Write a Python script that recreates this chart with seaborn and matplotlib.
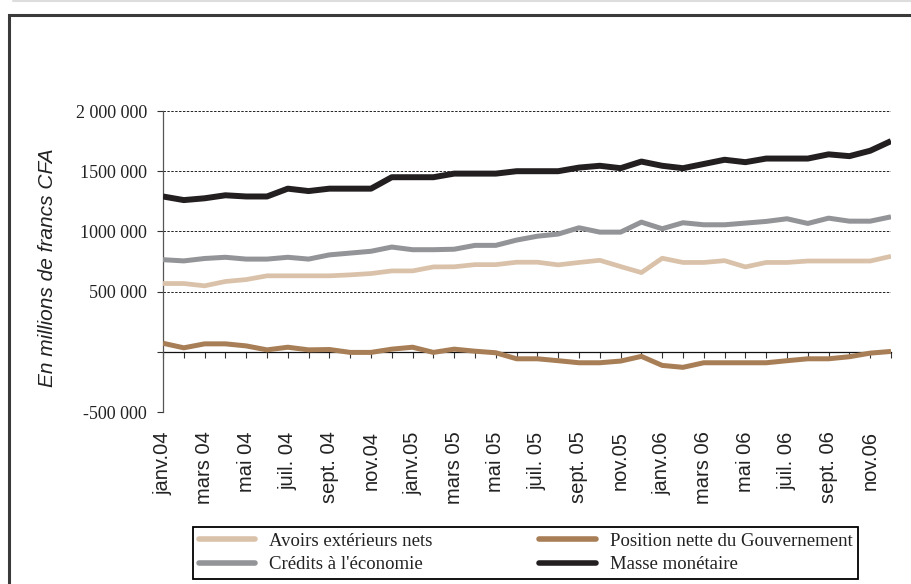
import numpy as np
import pandas as pd
import matplotlib
matplotlib.use("Agg")
import matplotlib.pyplot as plt
import seaborn as sns
from matplotlib.lines import Line2D
from matplotlib.patches import Rectangle
from matplotlib.font_manager import FontProperties

# Monthly series, janv. 2004 - déc. 2006 (millions de francs CFA)
mois = np.arange(36)

avoirs_exterieurs = [567000, 567000, 548000, 584000, 600000, 631000, 631000, 631000, 631000, 639000,
                     650000, 672000, 672000, 705000, 706000, 724000, 724000, 744000, 744000, 722000,
                     742000, 760000, 708000, 658000, 777000, 742000, 742000, 757000, 705000, 742000,
                     742000, 754000, 754000, 754000, 754000, 793000]
position_gouv = [71000, 33000, 66000, 66000, 49000, 16000, 38000, 16000, 19000, -5000,
                 -5000, 22000, 38000, -5000, 22000, 5000, -8000, -58000, -58000, -74000,
                 -91000, -91000, -77000, -38000, -113000, -129000, -91000, -91000, -91000, -91000,
                 -74000, -58000, -58000, -41000, -11000, 3000]
credits_economie = [765000, 755000, 775000, 785000, 770000, 770000, 785000, 770000, 805000, 820000,
                    835000, 870000, 848000, 848000, 852000, 884000, 884000, 928000, 960000, 978000,
                    1030000, 994000, 994000, 1077000, 1022000, 1072000, 1055000, 1055000, 1069000, 1083000,
                    1105000, 1066000, 1110000, 1085000, 1085000, 1121000]
masse_monetaire = [1290000, 1260000, 1275000, 1300000, 1290000, 1290000, 1355000, 1335000, 1355000, 1355000,
                   1355000, 1450000, 1450000, 1450000, 1480000, 1480000, 1480000, 1500000, 1500000, 1500000,
                   1530000, 1545000, 1525000, 1580000, 1545000, 1525000, 1560000, 1595000, 1575000, 1605000,
                   1605000, 1605000, 1640000, 1625000, 1670000, 1750000]

series_noms = ["Avoirs extérieurs nets", "Position nette du Gouvernement",
               "Crédits à l'économie", "Masse monétaire"]
series_couleurs = ["#D9C2A9", "#A87E57", "#939497", "#231F20"]
series_epaisseurs = [3.4, 3.6, 3.6, 4.3]

etiquettes_mois = ["janv.04", "mars 04", "mai 04", "juil. 04", "sept. 04", "nov.04",
                   "janv.05", "mars 05", "mai 05", "juil. 05", "sept. 05", "nov.05",
                   "janv.06", "mars 06", "mai 06", "juil. 06", "sept. 06", "nov.06"]
y_ticks = [-500000, 0, 500000, 1000000, 1500000, 2000000]
y_etiquettes = ["-500 000", "", "500 000", "1000 000", "1500 000", "2 000 000"]

df = pd.DataFrame({
    "mois": np.tile(mois, 4),
    "valeur": np.concatenate([avoirs_exterieurs, position_gouv, credits_economie, masse_monetaire]),
    "serie": np.repeat(series_noms, len(mois)),
})

sns.set_theme(style="white")
plt.rcParams["font.family"] = ["Liberation Sans", "DejaVu Sans"]

fig = plt.figure(figsize=(9.12, 5.84), dpi=100)
ax = fig.add_axes([163 / 912, 1 - 412 / 584, 728 / 912, 301 / 584])

sns.lineplot(data=df, x="mois", y="valeur", hue="serie", hue_order=series_noms,
             palette=series_couleurs, estimator=None, sort=False, legend=False, ax=ax)
for line, lw in zip(ax.get_lines(), series_epaisseurs):
    line.set_linewidth(lw)
    line.set_solid_capstyle("butt")
    line.set_solid_joinstyle("round")
    line.set_zorder(3)

ax.set_xlim(0, 35)
ax.set_ylim(-500000, 2000000)
ax.set_xlabel("")

# dashed horizontal gridlines (none at zero, where the axis line sits)
for yv in y_ticks:
    if yv != 0:
        ax.axhline(yv, ls=(0, (2.5, 1.5)), lw=0.7, color="#222222", zorder=0.5)

# y axis
ax.set_yticks(y_ticks)
ax.set_yticklabels(y_etiquettes, fontfamily="Liberation Serif", fontsize=13, color="#222222")
ax.tick_params(axis="y", direction="out", length=4.5, width=0.8, color="#333333", pad=7, left=True)
ax.spines["left"].set_color("#555555")
ax.spines["left"].set_linewidth(0.9)
ax.spines["top"].set_visible(False)
ax.spines["right"].set_visible(False)

# category axis line at zero with a tick per month
ax.spines["bottom"].set_position(("data", 0))
ax.spines["bottom"].set_color("#111111")
ax.spines["bottom"].set_linewidth(0.9)
ax.spines["bottom"].set_zorder(1)
ax.set_xticks(mois)
ax.set_xticklabels([])
ax.tick_params(axis="x", direction="out", length=4, width=0.8, color="#333333", bottom=True)

# month labels below the plot area
sec = ax.secondary_xaxis("bottom")
sec.set_xticks(mois[::2])
sec.set_xticklabels(etiquettes_mois, rotation=90, fontsize=14.5, color="#222222")
sec.tick_params(axis="x", length=0, pad=14)
sec.spines["bottom"].set_visible(False)

ax.set_ylabel("En millions de francs CFA", fontstyle="italic", fontsize=15, color="#222222")
ax.yaxis.set_label_coords(-0.146, 0.478)

# legend
ordre = [0, 2, 1, 3]
handles = [Line2D([], [], color=series_couleurs[i], lw=4) for i in ordre]
labels = [series_noms[i] for i in ordre]
leg = fig.legend(handles, labels, ncol=2, loc="upper left",
                 bbox_to_anchor=(193 / 912, 1 - 582 / 584, 665 / 912, 55 / 584),
                 bbox_transform=fig.transFigure, mode="expand", frameon=True, fancybox=False,
                 edgecolor="black", framealpha=1,
                 prop=FontProperties(family="Liberation Serif", size=13.5),
                 handlelength=3.0, handletextpad=0.75, borderpad=0.3, labelspacing=0.35,
                 borderaxespad=0)
leg.get_frame().set_linewidth(1.3)
for t in leg.get_texts():
    t.set_color("#222222")

# outer frame of the chart area
fig.patches.append(Rectangle((9 / 912, -0.05), 1.0, 1 - 15 / 584 + 0.05, transform=fig.transFigure,
                             fill=False, lw=2.2, ec="#3a3a3a", zorder=0))
fig.lines.append(Line2D([13 / 912, 1], [1 - 1 / 584, 1 - 1 / 584], transform=fig.transFigure,
                        color="#dddddd", lw=1.5))

fig.savefig("out.png", dpi=100)
